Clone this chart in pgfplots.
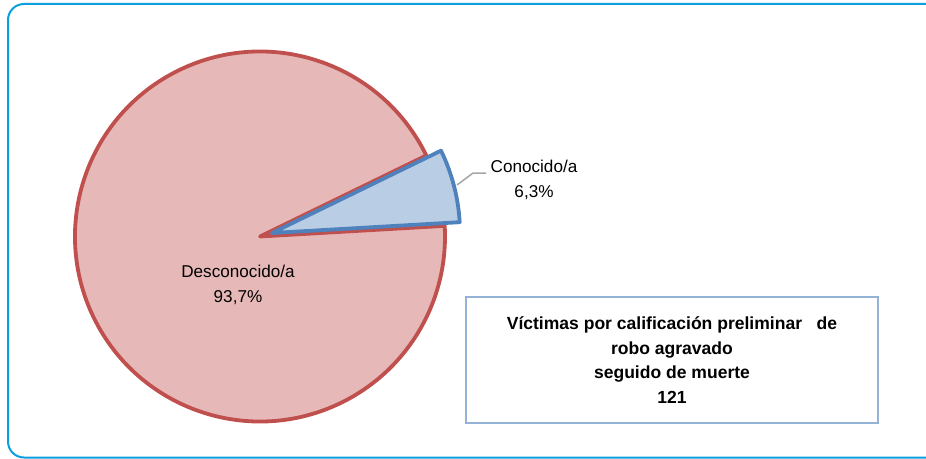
\documentclass[border=0pt]{standalone}
\usepackage{pgfplots}
\usepackage{pgfplotstable}
\pgfplotsset{compat=1.18}
\usepackage{fontspec}
\setmainfont{Liberation Sans}
\definecolor{redEdge}{HTML}{C0504D}
\definecolor{redFill}{HTML}{E6B9B8}
\definecolor{blueEdge}{HTML}{4F81BD}
\definecolor{blueFill}{HTML}{B9CDE5}
\definecolor{frameBlue}{HTML}{0AA0E0}
\definecolor{boxBlue}{HTML}{95B3D7}
\definecolor{leader}{HTML}{A6A6A6}

\pgfplotstableread{
label value
Desconocido 93.7
Conocido 6.3
}\piedata

\begin{document}
\begin{tikzpicture}
\pgfplotstablegetelem{0}{value}\of\piedata \let\vA\pgfplotsretval
\pgfplotstablegetelem{1}{value}\of\piedata \let\vB\pgfplotsretval
\pgfmathsetmacro{\bstart}{3.3}
\pgfmathsetmacro{\bend}{\bstart+3.6*\vB}
\pgfmathsetmacro{\rend}{\bend+3.6*\vA}
\begin{axis}[
  name=pie,
  scale only axis, width=926bp, height=459bp,
  xmin=0, xmax=926, ymin=0, ymax=459, y dir=reverse,
  hide axis, clip=true,
  font=\fontsize{17.2}{25.5}\selectfont,
]
% outer frame (open on the right, beyond the picture)
\draw[frameBlue, line width=2bp, rounded corners=16bp]
  (axis cs:935,4) -- (axis cs:8,4) -- (axis cs:8,457.5) -- (axis cs:935,457.5);
% Desconocido slice
\filldraw[fill=redFill, draw=redEdge, line width=3.8bp, line join=round]
  (axis cs:260,236.5) -- ++(\bend:185bp) arc[start angle=\bend, end angle=\rend, radius=185bp] -- cycle;
% Conocido slice (exploded)
\filldraw[fill=blueFill, draw=blueEdge, line width=3.8bp, line join=round]
  (axis cs:272,233) -- ++(\bstart:188bp) arc[start angle=\bstart, end angle=\bend, radius=188bp] -- cycle;
% leader line
\draw[leader, line width=1.5bp] (axis cs:457,185) -- (axis cs:473,173) -- (axis cs:486,173);
% labels
\node[align=center, inner sep=0pt] at (axis cs:534,180) {Conocido/a\\6,3\%};
\node[align=center, inner sep=0pt] at (axis cs:238,285) {Desconocido/a\\93,7\%};
% info box
\draw[boxBlue, line width=1.5bp] (axis cs:466,297) rectangle (axis cs:878,423);
\node[align=center, inner sep=0pt, font=\fontsize{17.6}{24.5}\selectfont\bfseries] at (axis cs:672,360)
  {V\'ictimas por calificaci\'on preliminar\ \ \ de\\robo agravado\\seguido de muerte\\121};
\end{axis}
\pgfresetboundingbox
\useasboundingbox (pie.south west) rectangle (pie.north east);
\end{tikzpicture}
\end{document}
